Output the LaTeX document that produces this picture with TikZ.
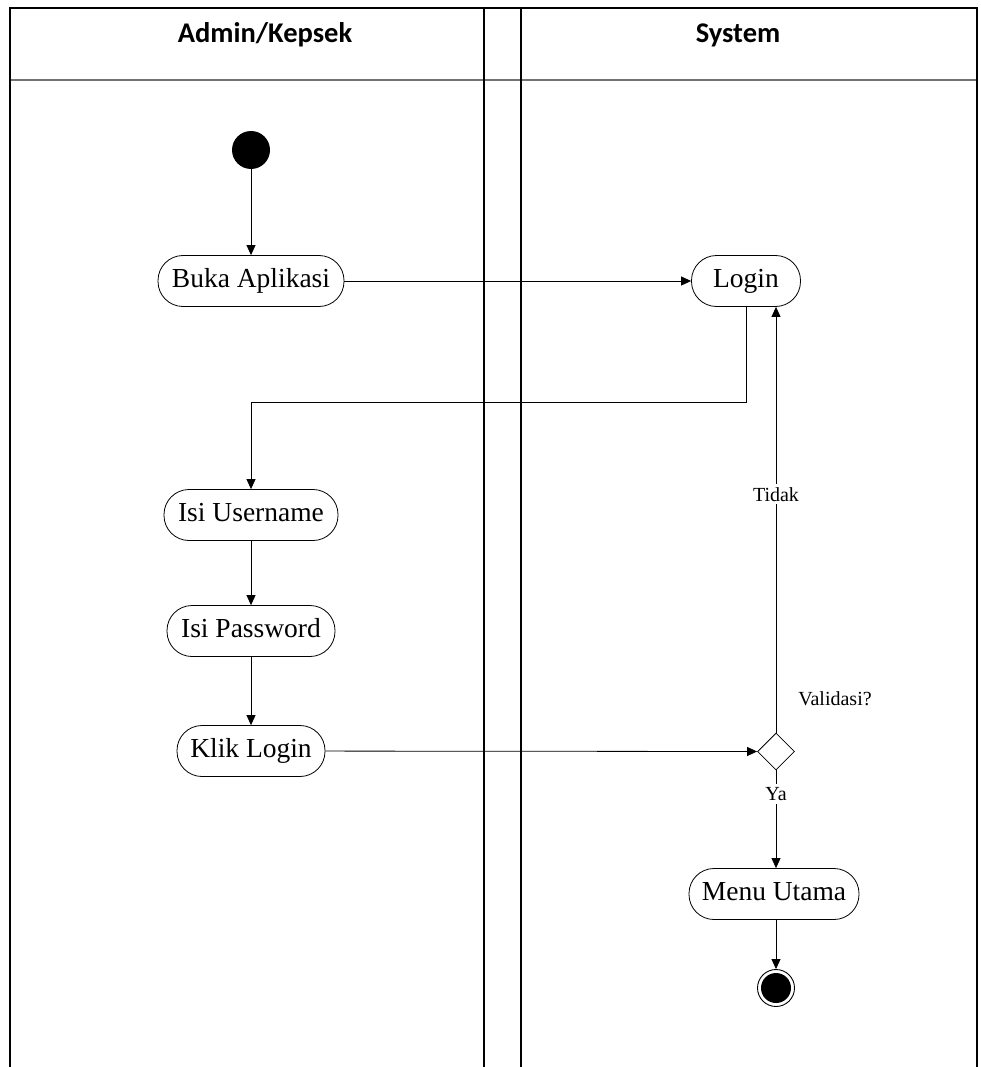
\documentclass[tikz,border=0pt]{standalone}
\usepackage{fontspec}
\setmainfont{Liberation Serif}
\newfontfamily\headfont{Carlito}
\usetikzlibrary{arrows.meta,shapes.geometric}

\tikzset{
  frameline/.style={line width=1.4pt, black},
  headline/.style={line width=1.2pt, black!55},
  action/.style={draw, line width=0.8pt, rounded corners=25pt, minimum height=51pt,
                 inner xsep=0pt, inner ysep=0pt, font=\fontsize{27.5}{30}\selectfont,
                 text height=19pt, text depth=6pt},
  flow/.style={draw, line width=0.8pt, -{Triangle[length=10pt,width=9pt]}},
  guard/.style={fill=white, inner sep=3pt, font=\fontsize{20}{22}\selectfont},
  lanetitle/.style={anchor=base, font=\headfont\bfseries\fontsize{28.5}{30}\selectfont},
}

\begin{document}
\begin{tikzpicture}[x=1pt, y=-1pt]
  \useasboundingbox (0,0) rectangle (980,1067);

  % swimlane frame
  \draw[headline] (10,80) -- (977,80);
  \draw[frameline] (10,1067) -- (10,8) -- (977,8) -- (977,1067);
  \draw[frameline] (484,8) -- (484,1067);
  \draw[frameline] (521,8) -- (521,1067);

  \node[lanetitle] (laneA) at (265,43) {Admin/Kepsek};
  \node[lanetitle] (laneB) at (738,43) {System};

  % activities
  \node[circle, fill=black, minimum size=38pt, inner sep=0pt] (start) at (251,150) {};
  \node[action, minimum width=186pt] (buka) at (251,281) {Buka Aplikasi};
  \node[action, minimum width=109pt] (login) at (746,281) {Login};
  \node[action, minimum width=174pt] (user) at (251,515) {Isi Username};
  \node[action, minimum width=168pt] (pass) at (251,631) {Isi Password};
  \node[action, minimum width=148pt] (klik) at (251,751) {Klik Login};
  \node[diamond, draw, line width=0.8pt, minimum width=37pt, minimum height=37pt,
        inner sep=0pt] (dec) at (776,751.5) {};
  \node[font=\fontsize{20}{22}\selectfont, anchor=base] (decq) at (835,705) {Validasi?};
  \node[action, minimum width=170pt] (menu) at (774,894) {Menu Utama};
  \node[circle, draw, line width=0.9pt, minimum size=37pt, inner sep=0pt] (stop) at (776,988) {};
  \fill (stop.center) circle (15pt);

  % control flow
  \draw[flow] (start) -- (buka);
  \draw[flow] (buka) -- (login);
  \draw[flow] (login.south) -- ++(0,95) -| (user.north);
  \draw[flow] (user) -- (pass);
  \draw[flow] (pass) -- (klik);
  \draw[flow] (klik) -- (dec.west);
  \draw[flow] (dec.north) -- node[guard, pos=0.56] {Tidak} (dec.north |- login.south);
  \draw[flow] (dec.south) -- node[guard, pos=0.24] {Ya} (menu.north -| dec.south);
  \draw[flow] (menu.south -| stop.north) -- (stop.north);
\end{tikzpicture}
\end{document}
